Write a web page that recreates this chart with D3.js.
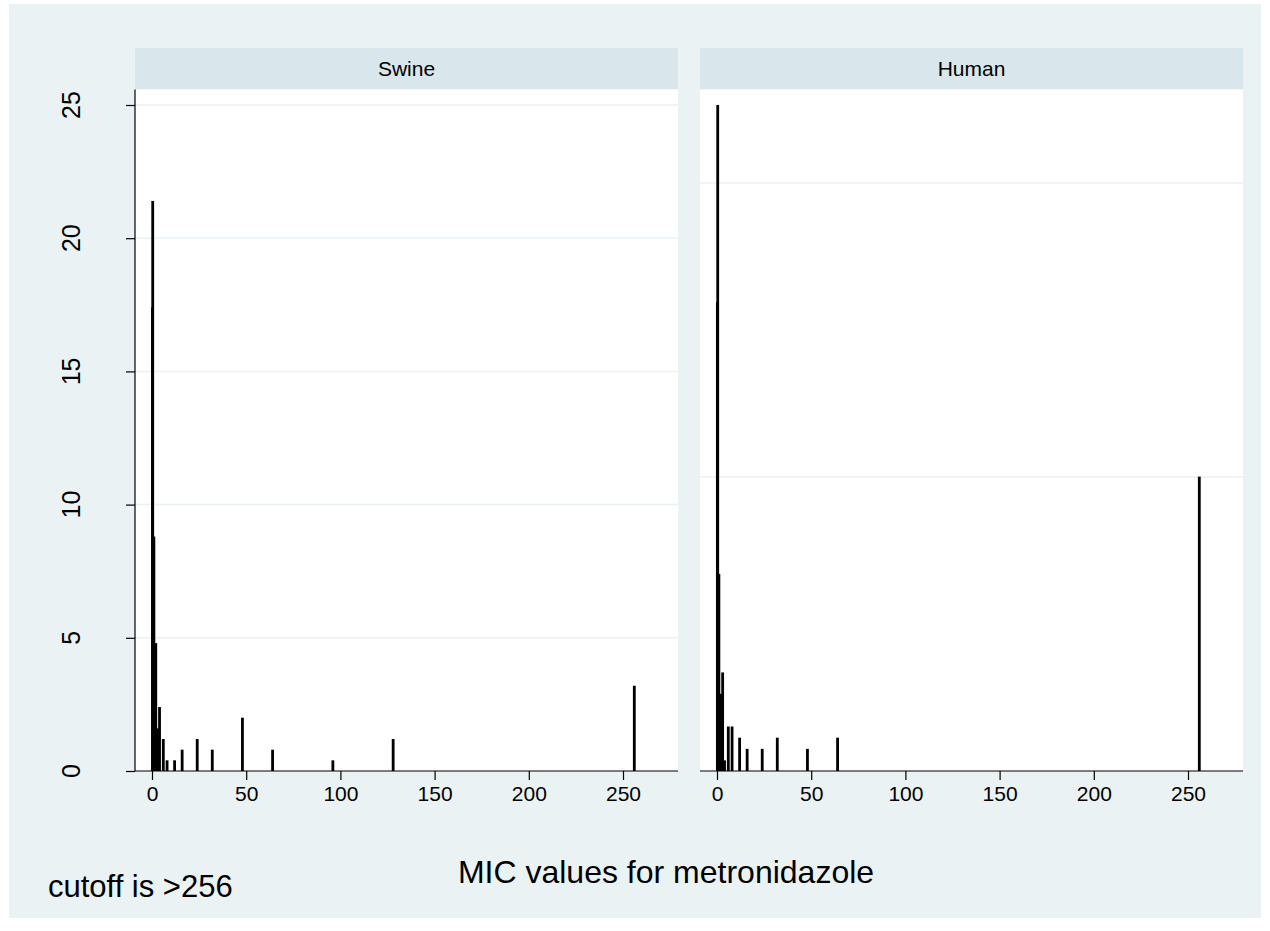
<!DOCTYPE html>
<html>
<head>
<meta charset="utf-8">
<script src="https://cdn.jsdelivr.net/npm/d3@7"></script>
<style>
html,body{margin:0;padding:0;background:#ffffff;}
svg{display:block;font-family:"Liberation Sans",Arial,sans-serif;}
</style>
</head>
<body>
<svg id="chart" width="1270" height="931"></svg>
<script>
// ---- data (percent of isolates at each MIC value) ----
const panels = ["Swine", "Human"];
const swineMIC = [0.25, 0.38, 1, 2, 3, 4, 6, 8, 12, 16, 24, 32, 48, 64, 96, 128, 256];
const swinePct = [17.4, 21.4, 8.8, 4.8, 1.6, 2.4, 1.2, 0.4, 0.4, 0.8, 1.2, 0.8, 2.0, 0.8, 0.4, 1.2, 3.2];
const humanMIC = [0.19, 0.38, 1, 2, 3, 4, 6, 8, 12, 16, 24, 32, 48, 64, 256];
const humanPct = [17.6, 25.0, 7.4, 2.9, 3.7, 0.4, 1.67, 1.67, 1.25, 0.83, 0.83, 1.25, 0.83, 1.25, 11.05];
const xTicks = [0, 50, 100, 150, 200, 250];
const yTicks = [0, 5, 10, 15, 20, 25];
const swineGrid = [5, 10, 15, 20, 25];
const humanGrid = [11.04, 22.07];
const xTitle = "MIC values for metronidazole";
const note = "cutoff is >256";

const svg = d3.select("#chart");
// graph region background
svg.append("rect").attr("x", 9).attr("y", 4).attr("width", 1252).attr("height", 914).attr("fill", "#eaf2f3");

const y = d3.scaleLinear().domain([0, 25]).range([771, 105]);
const plotTop = 89.5, plotBottom = 771;

const panelDefs = [
  {name: panels[0], left: 135, right: 678, x0: 152, mic: swineMIC, pct: swinePct, grid: swineGrid, yaxis: true},
  {name: panels[1], left: 700, right: 1243, x0: 717, mic: humanMIC, pct: humanPct, grid: humanGrid, yaxis: false}
];

panelDefs.forEach(p => {
  const x = d3.scaleLinear().domain([0, 250]).range([p.x0, p.x0 + 471]);
  const g = svg.append("g");
  // strip
  g.append("rect").attr("x", p.left).attr("y", 48).attr("width", p.right - p.left).attr("height", plotTop - 48).attr("fill", "#d9e6eb");
  g.append("text").attr("x", (p.left + p.right) / 2).attr("y", 69).attr("dy", "0.35em")
    .attr("text-anchor", "middle").attr("font-size", 21).attr("fill", "#000").text(p.name);
  // plot region
  g.append("rect").attr("x", p.left).attr("y", plotTop).attr("width", p.right - p.left).attr("height", plotBottom - plotTop).attr("fill", "#ffffff");
  // gridlines
  g.selectAll("line.grid").data(p.grid).enter().append("line")
    .attr("x1", p.left).attr("x2", p.right)
    .attr("y1", d => y(d)).attr("y2", d => y(d))
    .attr("stroke", "#eaf2f3").attr("stroke-width", 1.5);
  // bars
  const data = p.mic.map((m, i) => ({m, v: p.pct[i]}));
  g.selectAll("rect.bar").data(data).enter().append("rect")
    .attr("x", d => x(d.m) - 1.4).attr("width", 2.8)
    .attr("y", d => y(d.v)).attr("height", d => y(0) - y(d.v))
    .attr("fill", "#000");
  // x axis
  const xa = g.append("g").attr("transform", `translate(0,${plotBottom})`)
    .call(d3.axisBottom(x).tickValues(xTicks).tickSize(9).tickPadding(6).tickFormat(d3.format("d")));
  xa.select(".domain").remove();
  xa.selectAll("line").attr("stroke", "#000").attr("stroke-width", 1.2);
  xa.selectAll("text").attr("font-size", 21).attr("fill", "#000").attr("font-family", "Liberation Sans, Arial, sans-serif");
  g.append("line").attr("x1", p.left).attr("x2", p.right).attr("y1", plotBottom).attr("y2", plotBottom)
    .attr("stroke", "#000").attr("stroke-width", 1.2);
  if (p.yaxis) {
    g.append("line").attr("x1", p.left).attr("x2", p.left).attr("y1", plotTop).attr("y2", plotBottom)
      .attr("stroke", "#000").attr("stroke-width", 1.2);
    const ya = g.append("g").attr("transform", `translate(${p.left},0)`)
      .call(d3.axisLeft(y).tickValues(yTicks).tickSize(9).tickFormat(d3.format("d")));
    ya.select(".domain").remove();
    ya.selectAll("line").attr("stroke", "#000").attr("stroke-width", 1.2);
    ya.selectAll("text").remove();
    g.selectAll("text.ylab").data(yTicks).enter().append("text")
      .attr("transform", d => `translate(80,${y(d)}) rotate(-90)`)
      .attr("text-anchor", "middle").attr("font-size", 25).attr("fill", "#000").text(d => d);
  }
});

svg.append("text").attr("x", 666).attr("y", 872).attr("dy", "0.35em").attr("text-anchor", "middle")
  .attr("font-size", 32).attr("fill", "#000").text(xTitle);
svg.append("text").attr("x", 48).attr("y", 886).attr("dy", "0.35em").attr("text-anchor", "start")
  .attr("font-size", 31).attr("fill", "#000").text(note);
</script>
</body>
</html>
